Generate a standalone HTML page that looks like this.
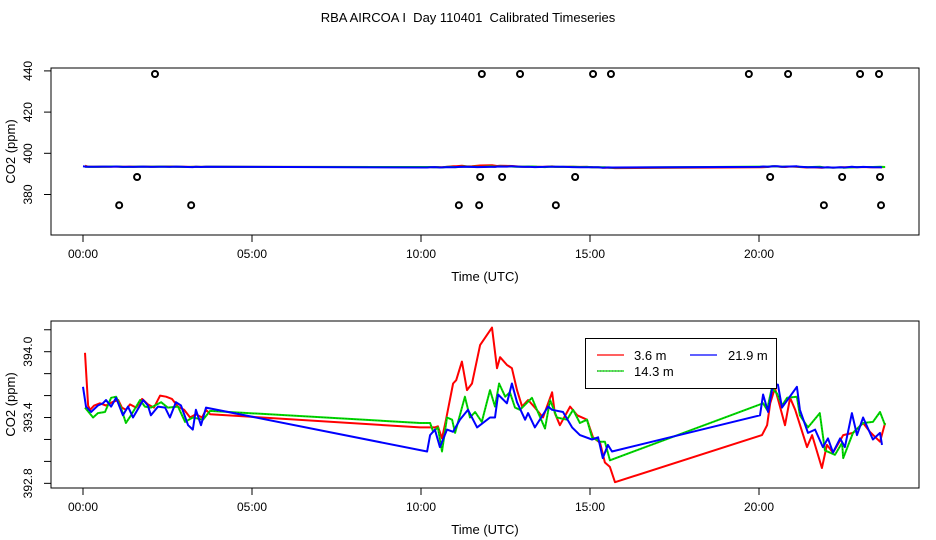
<!DOCTYPE html>
<html><head><meta charset="utf-8"><style>
body{margin:0;background:#fff;}
svg{display:block;font-family:"Liberation Sans",sans-serif;}
</style></head><body>
<svg id="chart" width="936" height="540" viewBox="0 0 936 540" xmlns="http://www.w3.org/2000/svg">
<rect width="936" height="540" fill="#fff"/>
<text x="468" y="22" font-size="13" text-anchor="middle" style="white-space:pre" xml:space="preserve">RBA AIRCOA I  Day 110401  Calibrated Timeseries</text>
<g id="top"></g><g id="bot"></g>
</svg>
<script>
const xTicks=[0,5,10,15,20];
const xTickLabels=["00:00","05:00","10:00","15:00","20:00"];
const topYTicks=[380,400,420,440];
const botYTicks=[392.8,393.0,393.2,393.4,393.6,393.8,394.0,394.2];
const botYLabels=["392.8","393.4","394.0"];
const outT=[2.13,11.80,12.93,15.09,15.62,19.70,20.86,22.99,23.55,1.60,11.75,12.40,14.56,20.33,22.46,23.58,1.07,3.20,11.12,11.72,13.99,21.92,23.61];
const outV=[438.5,438.5,438.5,438.5,438.5,438.5,438.5,438.5,438.5,388.5,388.5,388.5,388.5,388.5,388.5,388.5,374.8,374.8,374.8,374.8,374.8,374.8,374.8];
const redT=[0.06,0.15,0.21,0.33,0.50,0.68,0.86,1.04,1.15,1.27,1.39,1.57,1.75,1.92,2.10,2.28,2.46,2.63,2.81,2.99,3.17,3.34,3.52,3.64,3.76,9.97,10.41,10.50,10.62,10.74,10.95,11.04,11.21,11.36,11.51,11.75,12.10,12.25,12.34,12.54,12.69,12.84,12.99,13.17,13.37,13.61,13.88,13.96,14.11,14.41,14.62,14.91,15.09,15.30,15.44,15.59,15.74,20.09,20.24,20.33,20.47,20.62,20.77,20.92,21.07,21.42,21.57,21.86,22.01,22.19,22.49,22.78,23.08,23.28,23.58,23.73];
const redV=[393.99,393.51,393.47,393.51,393.53,393.51,393.54,393.56,393.49,393.47,393.52,393.49,393.57,393.52,393.49,393.60,393.59,393.57,393.50,393.47,393.40,393.43,393.40,393.47,393.43,393.31,393.31,393.32,393.21,393.38,393.71,393.74,393.91,393.65,393.71,394.06,394.22,393.85,393.95,393.88,393.85,393.65,393.50,393.56,393.49,393.40,393.63,393.44,393.33,393.50,393.42,393.38,393.22,393.17,392.99,392.95,392.81,393.24,393.33,393.53,393.67,393.50,393.33,393.58,393.47,393.13,393.24,392.94,393.15,393.08,393.24,393.26,393.35,393.27,393.18,393.35];
const greenT=[0.06,0.30,0.44,0.65,0.83,0.98,1.12,1.27,1.42,1.69,1.83,2.01,2.31,2.51,2.81,3.02,3.25,3.55,3.76,9.97,10.27,10.36,10.50,10.62,10.77,10.92,11.01,11.30,11.45,11.60,11.80,12.04,12.19,12.31,12.49,12.63,12.78,12.93,13.28,13.43,13.67,13.82,14.02,14.32,14.50,14.70,14.91,15.06,15.30,15.44,15.59,20.12,20.24,20.38,20.53,20.68,20.83,21.12,21.21,21.45,21.80,21.95,22.25,22.46,22.49,22.78,23.08,23.37,23.58,23.73];
const greenV=[393.49,393.40,393.44,393.45,393.58,393.59,393.49,393.35,393.42,393.56,393.50,393.49,393.54,393.49,393.50,393.36,393.40,393.38,393.46,393.35,393.35,393.27,393.31,393.09,393.40,393.38,393.26,393.59,393.40,393.45,393.36,393.65,393.50,393.71,393.59,393.63,393.49,393.47,393.58,393.47,393.30,393.56,393.40,393.38,393.47,393.35,393.38,393.22,393.18,393.18,393.01,393.53,393.47,393.67,393.62,393.51,393.58,393.59,393.42,393.31,393.44,393.10,393.06,393.17,393.03,393.26,393.35,393.36,393.45,393.33];
const blueT=[0.00,0.09,0.24,0.44,0.59,0.68,0.83,0.98,1.18,1.33,1.48,1.78,1.92,2.01,2.22,2.43,2.57,2.75,2.90,3.11,3.25,3.34,3.49,3.64,10.18,10.27,10.41,10.56,10.77,10.95,11.15,11.39,11.66,12.04,12.19,12.28,12.54,12.69,12.84,13.08,13.17,13.37,13.76,13.88,14.20,14.47,14.70,15.06,15.24,15.38,15.53,15.65,20.03,20.12,20.27,20.41,20.56,20.68,21.12,21.21,21.45,21.66,21.89,22.04,22.19,22.40,22.54,22.75,22.90,23.08,23.37,23.58,23.64];
const blueV=[393.68,393.50,393.45,393.51,393.53,393.56,393.50,393.58,393.42,393.50,393.40,393.56,393.51,393.42,393.50,393.49,393.40,393.54,393.51,393.33,393.29,393.47,393.33,393.49,393.09,393.24,393.29,393.13,393.29,393.27,393.38,393.47,393.31,393.40,393.40,393.61,393.53,393.71,393.54,393.38,393.44,393.31,393.50,393.47,393.45,393.31,393.24,393.20,393.22,393.03,393.15,393.09,393.42,393.61,393.45,393.70,393.70,393.49,393.68,393.47,393.26,393.29,393.13,393.21,393.08,393.21,393.13,393.44,393.24,393.40,393.20,393.26,393.15];

const NS="http://www.w3.org/2000/svg";
function mk(parent,tag,attrs,text){const e=document.createElementNS(NS,tag);for(const k in attrs)e.setAttribute(k,attrs[k]);if(text!==undefined)e.textContent=text;parent.appendChild(e);return e;}
const X0=51,X1=919;
const xs=h=>83+h*33.8;

function panel(g,top,bottom,ys,yTicks,yLabels,name){
  const box=mk(g,'rect',{x:X0,y:top,width:X1-X0,height:bottom-top,fill:'none',stroke:'#000','stroke-width':1});
  
  
  xTicks.forEach((t,i)=>{
    const l=mk(g,'line',{x1:xs(t),x2:xs(t),y1:bottom,y2:bottom+7,stroke:'#000'});
    
    
    const tx=mk(g,'text',{x:xs(t),y:bottom+23,'font-size':12,'text-anchor':'middle'},xTickLabels[i]);
    
    
  });
  const xt=mk(g,'text',{x:485,y:bottom+46,'font-size':13,'text-anchor':'middle'},'Time (UTC)');
  
  
  yTicks.forEach(v=>{
    const l=mk(g,'line',{x1:X0-7,x2:X0,y1:ys(v),y2:ys(v),stroke:'#000'});
    
    
  });
  yLabels.forEach(s=>{
    const y=ys(parseFloat(s));
    const tx=mk(g,'text',{x:0,y:0,'font-size':12,'text-anchor':'middle',transform:`translate(32,${y}) rotate(-90)`},s);
    
    
  });
  const yt=mk(g,'text',{x:0,y:0,'font-size':13,'text-anchor':'middle',transform:`translate(15,${(top+bottom)/2}) rotate(-90)`},'CO2 (ppm)');
  
  
}
function series(g,T,V,ys,color,name,dotted){
  const d=T.map((t,i)=>(i?'L':'M')+xs(t).toFixed(1)+','+ys(V[i]).toFixed(1)).join('');
  const p=mk(g,'path',{d:d,fill:'none',stroke:color,'stroke-width':2,'stroke-linejoin':'round'});
  
  
  if(dotted){
    const q=mk(g,'path',{d:d,fill:'none',stroke:'#000','stroke-width':0.6,'stroke-dasharray':'1 2','opacity':0.6});
    
    
  }
}
const gt=document.getElementById('top'),gb=document.getElementById('bot');
const yTop=v=>153.3-(v-400)*2.06;
const yBot=v=>351.7-(v-394.0)*109.7;
panel(gt,68,235,yTop,topYTicks,topYTicks.map(String),'top');
series(gt,redT,redV,yTop,'#f00','top-series-3-6m');
series(gt,greenT,greenV,yTop,'#0d0','top-series-14-3m');
series(gt,blueT,blueV,yTop,'#00f','top-series-21-9m');
outT.forEach((t,i)=>{
  const c=mk(gt,'circle',{cx:xs(t),cy:yTop(outV[i]),r:3,fill:'none',stroke:'#000','stroke-width':2});
  
  
});
panel(gb,321,488,yBot,botYTicks,botYLabels,'bottom');
series(gb,redT,redV,yBot,'#f00','series-3-6m');
series(gb,greenT,greenV,yBot,'#0d0','series-14-3m',true);
series(gb,blueT,blueV,yBot,'#00f','series-21-9m');
const lg=mk(gb,'g',{});


mk(lg,'rect',{x:585.5,y:338.5,width:191,height:50,fill:'#fff',stroke:'#000'});
const ents=[[597,355,'#f00','3.6 m',634],[690,355,'#00f','21.9 m',728],[597,371,'#0d0','14.3 m',634]];
ents.forEach(e=>{
  const eg=mk(lg,'g',{});
  
  
  mk(eg,'line',{x1:e[0],x2:e[0]+27,y1:e[1],y2:e[1],stroke:e[2],'stroke-width':1.2});
  if(e[3]==='14.3 m') mk(eg,'line',{x1:e[0],x2:e[0]+27,y1:e[1],y2:e[1],stroke:'#000','stroke-width':0.6,'stroke-dasharray':'1 2'});
  mk(eg,'text',{x:e[4],y:e[1]+5,'font-size':13},e[3]);
});
</script>
</body></html>
